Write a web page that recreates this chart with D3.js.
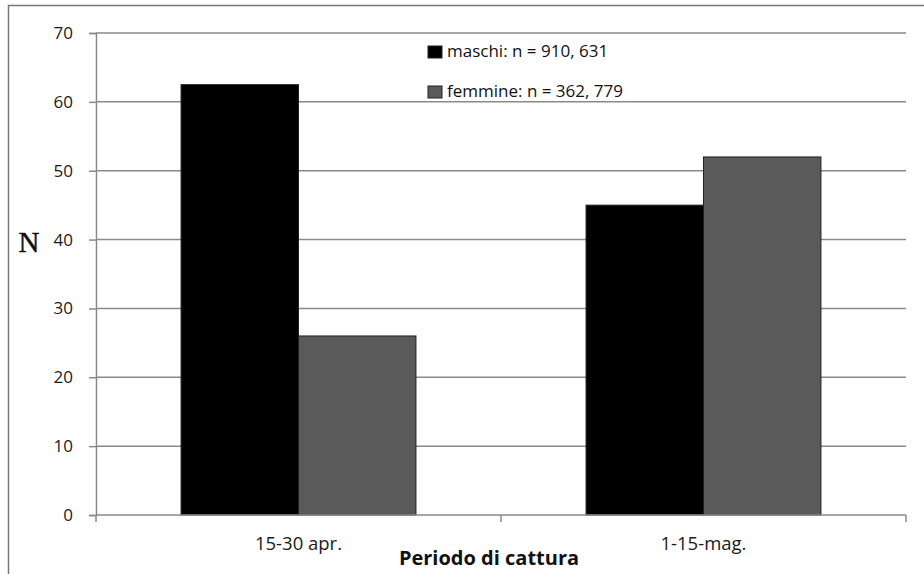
<!DOCTYPE html>
<html><head><meta charset="utf-8">
<script src="https://cdn.jsdelivr.net/npm/d3@7"></script>
<style>body{margin:0;background:#fff}svg{display:block}</style>
</head><body>
<svg id="c" width="924" height="574"></svg>
<script>
const categories = ["15-30 apr.", "1-15-mag."];
const seriesNames = ["maschi: n = 910, 631", "femmine: n = 362, 779"];
const maschi = [62.5, 45];
const femmine = [26, 52];
const yTicks = [0, 10, 20, 30, 40, 50, 60, 70];
const colors = ["#000000", "#5a5a5a"];

const svg = d3.select("#c");
const W = 924, H = 574;
const m = {l: 96, r: 18, t: 33, b: 59};
const FONT = "'Open Sans', Lato, sans-serif";
const x0 = d3.scaleBand().domain(categories).range([m.l, W - m.r]).paddingInner(0.42).paddingOuter(0.21);
const x1 = d3.scaleBand().domain([0, 1]).range([0, x0.bandwidth()]);
const y = d3.scaleLinear().domain([0, 70]).range([H - m.b, m.t]);
const xFull = d3.scaleBand().domain(categories).range([m.l, W - m.r]);

// outer border (left and top visible)
svg.append("rect").attr("x", 8.5).attr("y", 5.5).attr("width", 960).attr("height", 620)
  .attr("fill", "none").attr("stroke", "#777").attr("stroke-width", 1.5);

// gridlines
svg.append("g").selectAll("line").data(yTicks.filter(d => d > 0)).join("line")
  .attr("x1", m.l).attr("x2", W - m.r).attr("y1", d => y(d)).attr("y2", d => y(d))
  .attr("stroke", "#8a8a8a").attr("stroke-width", 1.5);

// bars
const data = categories.map((c, i) => ({c, vals: [maschi[i], femmine[i]]}));
const g = svg.append("g").selectAll("g").data(data).join("g")
  .attr("transform", d => `translate(${x0(d.c)},0)`);
g.selectAll("rect").data(d => d.vals.map((v, k) => ({v, k}))).join("rect")
  .attr("x", d => x1(d.k)).attr("width", x1.bandwidth())
  .attr("y", d => y(d.v)).attr("height", d => y(0) - y(d.v))
  .attr("fill", d => colors[d.k]).attr("stroke", "#222").attr("stroke-width", 1);

// y axis
const yAxis = d3.axisLeft(y).tickValues(yTicks).tickSize(7).tickPadding(16);
const ya = svg.append("g").attr("transform", `translate(${m.l},0)`).call(yAxis);
ya.select(".domain").attr("stroke", "#8a8a8a").attr("stroke-width", 1.5);
ya.selectAll(".tick line").attr("stroke", "#8a8a8a").attr("stroke-width", 1.5);
ya.selectAll("text").attr("font-family", FONT).attr("font-size", 17).attr("fill", "#1a1a1a");

// x axis
const xa = svg.append("g").attr("transform", `translate(0,${y(0)})`);
xa.append("line").attr("x1", m.l).attr("x2", W - m.r).attr("stroke", "#8a8a8a").attr("stroke-width", 1.5);
const bounds = [m.l, ...categories.map(c => xFull(c) + xFull.bandwidth())];
xa.selectAll("line.tk").data(bounds).join("line").attr("class", "tk")
  .attr("x1", d => d).attr("x2", d => d).attr("y1", 0).attr("y2", 7)
  .attr("stroke", "#8a8a8a").attr("stroke-width", 1.5);
xa.selectAll("text").data(categories).join("text")
  .attr("x", d => x0(d) + x0.bandwidth() / 2).attr("y", 35)
  .attr("text-anchor", "middle").attr("font-family", FONT)
  .attr("font-size", 18.5).attr("fill", "#1a1a1a").text(d => d);

// axis titles
svg.append("text").attr("x", 489).attr("y", 565).attr("text-anchor", "middle")
  .attr("font-family", FONT).attr("font-weight", "bold")
  .attr("font-size", 20).attr("fill", "#111").text("Periodo di cattura");
svg.append("text").attr("x", 29).attr("y", 252).attr("text-anchor", "middle")
  .attr("font-family", "'Liberation Serif', 'DejaVu Serif', serif")
  .attr("font-size", 29).attr("fill", "#111").attr("stroke", "#111").attr("stroke-width", 0.4).text("N");

// legend
const lg = svg.append("g").selectAll("g").data(seriesNames).join("g")
  .attr("transform", (d, i) => `translate(428,${46 + i * 40})`);
lg.append("rect").attr("x", 0).attr("y", 0).attr("width", 14).attr("height", 12)
  .attr("fill", (d, i) => colors[i]).attr("stroke", "#222").attr("stroke-width", 1);
lg.append("text").attr("x", 19).attr("y", 11).attr("font-family", FONT)
  .attr("font-size", 17).attr("fill", "#111").text(d => d);
</script>
</body></html>
